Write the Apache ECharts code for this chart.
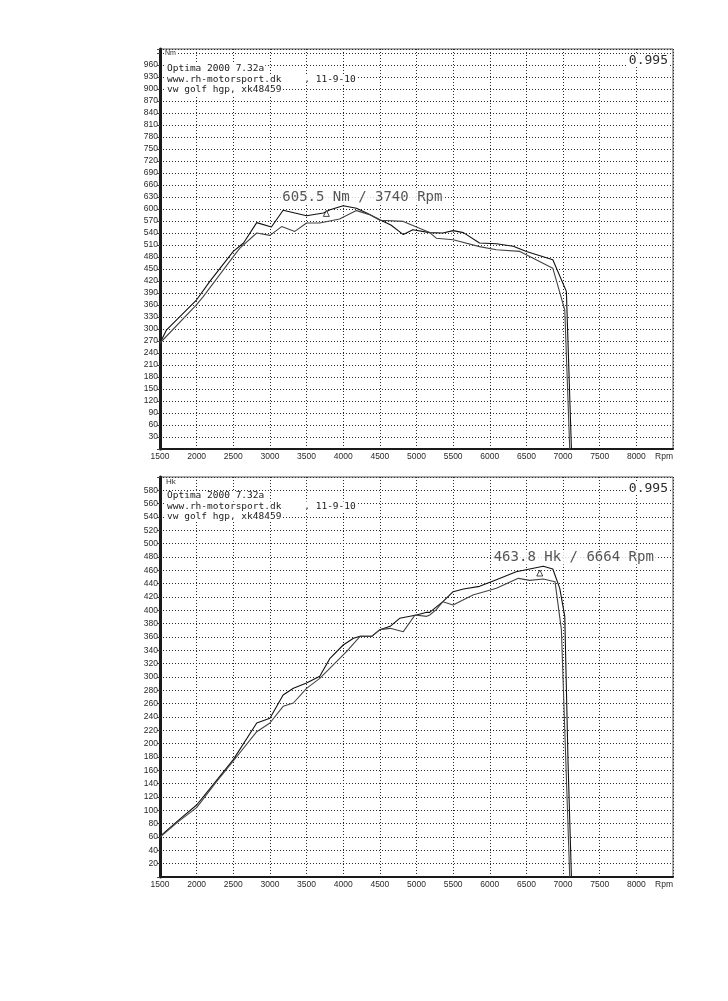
<!DOCTYPE html>
<html><head><meta charset="utf-8">
<script src="https://cdn.jsdelivr.net/npm/echarts@6.0.0/dist/echarts.min.js"></script>
<style>html,body{margin:0;padding:0;background:#fff}#c{width:728px;height:1001px}</style>
</head><body><div id="c"></div>
<script>
// ---------- X axis (shared) ----------
const rpmTickValues = [1500,2000,2500,3000,3500,4000,4500,5000,5500,6000,6500,7000,7500,8000,8500];
const rpmTickLabels = ['1500','2000','2500','3000','3500','4000','4500','5000','5500','6000','6500','7000','7500','8000','Rpm'];

// ---------- Torque chart (Nm) ----------
const torqueTickLabels = [30,60,90,120,150,180,210,240,270,300,330,360,390,420,450,480,510,540,570,600,630,660,690,720,750,780,810,840,870,900,930,960];
const torqueRunA_rpm = [1500,1590,2000,2180,2500,2640,2820,3020,3180,3500,3730,3820,4000,4180,4320,4500,4650,4820,4950,5180,5360,5500,5640,5860,6090,6320,6500,6860,7045,7114];
const torqueRunA_nm  = [265,298,373,419,494,515,566,555,597,583,590,598,608,602,590,573,560,536,548,541,540,546,541,515,513,507,494,473,394,0];
const torqueRunB_rpm = [1500,2000,2090,2500,2590,2820,3000,3160,3340,3500,3680,3950,4180,4360,4500,4820,5000,5180,5270,5500,5860,6090,6410,6545,6860,7023,7091];
const torqueRunB_nm  = [265,361,381,481,502,540,534,556,544,565,565,575,596,586,572,569,555,541,527,523,506,498,494,481,452,348,0];
const torquePeakMarker = [3770, 589];
const torquePeakText = '605.5 Nm / 3740 Rpm';

// ---------- Power chart (Hk) ----------
const powerTickLabels = [20,40,60,80,100,120,140,160,180,200,220,240,260,280,300,320,340,360,380,400,420,440,460,480,500,520,540,560,580];
const powerRunP_rpm = [1500,1750,2000,2250,2500,2820,3000,3180,3320,3500,3680,3820,4000,4140,4230,4390,4500,4640,4770,5000,5140,5180,5360,5500,5640,5860,6090,6360,6545,6730,6860,6955,7023,7068,7114];
const powerRunP_hk  = [61,85,108,142,176,231,238,273,283,291,301,328,348,358,361,361,371,376,388,393,397,397,413,428,432,436,446,458,462,466,462,433,391,171,0];
const powerRunQ_rpm = [1500,1750,2000,2250,2500,2820,3000,3180,3320,3500,3680,4045,4230,4390,4500,4640,4820,4980,5140,5180,5270,5360,5500,5770,6090,6390,6545,6730,6890,6977,7091];
const powerRunQ_hk  = [60,83,104,140,174,218,231,256,261,283,298,338,361,361,371,373,368,393,391,393,401,413,408,423,433,448,445,447,443,371,0];
const powerPeakMarker = [6682, 456];
const powerPeakText = '463.8 Hk / 6664 Rpm';

// ---------- Header texts ----------
const headerLines = ['Optima 2000 7.32a', 'www.rh-motorsport.dk    , 11-9-10', 'vw golf hgp, xk48459'];
const correctionFactor = '0.995';
const unitTop = 'Nm', unitBottom = 'Hk';

const zip = (a, b) => a.map((x, i) => [x, b[i]]);

const chart = echarts.init(document.getElementById('c'), null, {renderer: 'canvas'});
const ink = '#1a1a1a';
const gridDash = {type: [1, 2], color: '#2a2a2a', width: 1};

function xAxis(gi) {
  return {
    type: 'value', gridIndex: gi, min: 1500, max: 8500, interval: 500,
    axisLine: {show: true, onZero: false, lineStyle: {color: ink, width: 2}},
    axisTick: {show: false},
    axisLabel: {fontSize: 8.5, color: '#2a2a2a', margin: 3, fontFamily: 'Liberation Sans', showMaxLabel: true, showMinLabel: true,
      alignMaxLabel: 'right',
      formatter: v => { const i = rpmTickValues.indexOf(v); return i >= 0 ? rpmTickLabels[i] : ''; }},
    splitLine: {show: true, lineStyle: gridDash}
  };
}
function yAxis(gi, max, interval, labels) {
  return {
    type: 'value', gridIndex: gi, min: 0, max: max, interval: interval,
    axisLine: {show: true, lineStyle: {color: ink, width: 3}},
    axisTick: {show: true, length: 3, lineStyle: {color: '#444'}},
    axisLabel: {fontSize: 8.5, color: '#2a2a2a', margin: 2, fontFamily: 'Liberation Sans',
      formatter: v => labels.indexOf(v) >= 0 ? String(v) : ''},
    splitLine: {show: true, lineStyle: gridDash}
  };
}
function curve(xi, data, color) {
  return {type: 'line', xAxisIndex: xi, yAxisIndex: xi, data: data, showSymbol: false, symbol: 'none',
    lineStyle: {color: color, width: 1.1}, smooth: false, z: 3};
}
function marker(xi, pt, text, dx, dy) {
  return {type: 'scatter', xAxisIndex: xi, yAxisIndex: xi, data: [pt], symbol: 'triangle', symbolSize: 6,
    itemStyle: {color: '#fff', borderColor: ink, borderWidth: 1}, z: 5,
    label: {show: true, formatter: text, position: 'top', distance: 4, offset: [dx, dy],
      fontFamily: 'DejaVu Sans Mono', fontSize: 14, color: '#2a2a2a', backgroundColor: '#fff', padding: [0, 2]}};
}
function headerGraphics(top, line0y) {
  const g = headerLines.map((t, i) => ({
    type: 'text', left: 166, top: line0y + i * 10.5, z: 10,
    style: {text: t, font: '9.5px "DejaVu Sans Mono"', fill: '#1a1a1a', backgroundColor: '#fff', padding: [0, 1]}
  }));
  g.push({type: 'text', right: 58, top: top + 5, z: 10,
    style: {text: correctionFactor, font: '13px "DejaVu Sans Mono"', fill: '#2a2a2a', backgroundColor: '#fff', padding: [0, 2]}});
  return g;
}

chart.setOption({
  animation: false,
  backgroundColor: '#fff',
  grid: [
    {left: 160, top: 49, width: 513, height: 400, show: true, borderColor: '#555', borderWidth: 1, backgroundColor: 'transparent'},
    {left: 160, top: 477, width: 513, height: 400, show: true, borderColor: '#555', borderWidth: 1, backgroundColor: 'transparent'}
  ],
  xAxis: [xAxis(0), xAxis(1)],
  yAxis: [yAxis(0, 1000, 30, torqueTickLabels), yAxis(1, 600, 20, powerTickLabels)],
  series: [
    curve(0, zip(torqueRunA_rpm, torqueRunA_nm), '#111'),
    curve(0, zip(torqueRunB_rpm, torqueRunB_nm), '#444'),
    marker(0, torquePeakMarker, torquePeakText, 36, -2),
    curve(1, zip(powerRunP_rpm, powerRunP_hk), '#111'),
    curve(1, zip(powerRunQ_rpm, powerRunQ_hk), '#444'),
    marker(1, powerPeakMarker, powerPeakText, 34, -1)
  ],
  graphic: [
    ...headerGraphics(49, 64),
    ...headerGraphics(477, 491),
    {type: 'text', left: 165, top: 50, z: 10, style: {text: unitTop, font: '7px "Liberation Sans"', fill: '#333', backgroundColor: '#fff'}},
    {type: 'text', left: 166, top: 478, z: 10, style: {text: unitBottom, font: '8px "Liberation Sans"', fill: '#333', backgroundColor: '#fff'}}
  ]
});
</script>
</body></html>
